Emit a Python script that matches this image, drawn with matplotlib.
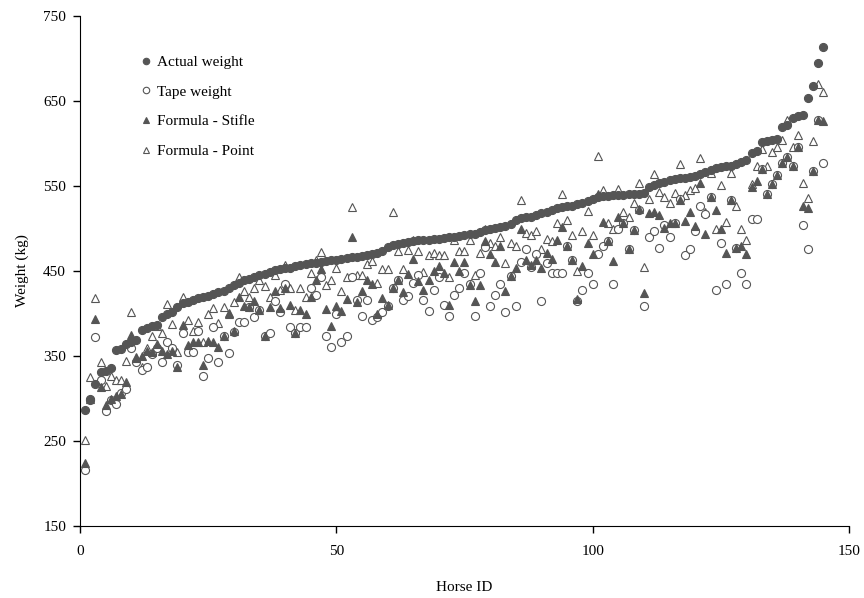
import numpy as np
import matplotlib.pyplot as plt

plt.rcParams['font.family'] = ['Liberation Serif', 'DejaVu Serif']

# Horse IDs 1..145 and the four weight series (kg)
horse_id = np.arange(1, 146)

actual = [286, 300, 317, 331, 332, 336, 357, 358, 364, 366,
          369, 381, 383, 385, 386, 396, 399, 402, 408, 412,
          414, 416, 418, 420, 421, 423, 425, 427, 430, 433,
          436, 439, 441, 443, 445, 447, 449, 451, 452, 453,
          454, 456, 457, 458, 459, 460, 461, 462, 463, 463,
          464, 465, 466, 467, 468, 469, 470, 471, 474, 478,
          481, 482, 483, 484, 485, 486, 486, 487, 488, 488,
          489, 490, 490, 491, 492, 493, 494, 496, 498, 500,
          501, 502, 503, 505, 510, 512, 513, 514, 516, 518,
          520, 522, 524, 525, 526, 527, 529, 530, 532, 535,
          537, 538, 538, 539, 540, 540, 541, 541, 541, 542,
          549, 551, 553, 555, 557, 558, 559, 560, 561, 562,
          564, 566, 569, 571, 572, 573, 574, 576, 578, 581,
          589, 591, 602, 603, 604, 605, 620, 622, 630, 632,
          633, 653, 668, 695, 713]

tape = [216, 298, 372, 322, 285, 298, 294, 306, 311, 359,
        343, 333, 337, 352, 360, 343, 366, 359, 340, 377,
        355, 355, 379, 327, 348, 384, 343, 373, 354, 378,
        390, 390, 408, 396, 404, 373, 377, 415, 402, 435,
        384, 377, 384, 384, 430, 422, 443, 373, 361, 400,
        366, 373, 443, 416, 397, 416, 392, 396, 402, 409,
        430, 440, 416, 421, 436, 445, 416, 403, 428, 443,
        410, 397, 422, 430, 448, 435, 397, 448, 478, 409,
        422, 435, 402, 444, 409, 461, 476, 455, 470, 415,
        460, 448, 448, 448, 480, 463, 415, 428, 448, 435,
        470, 480, 485, 435, 500, 507, 476, 498, 522, 409,
        490, 497, 477, 504, 490, 506, 535, 469, 476, 497,
        526, 517, 537, 428, 483, 435, 534, 477, 448, 435,
        511, 511, 570, 541, 552, 563, 577, 584, 574, 596,
        504, 476, 568, 628, 577]

stifle = [224, 300, 394, 313, 292, 300, 303, 305, 320, 375,
          348, 350, 356, 355, 364, 356, 352, 356, 337, 386,
          363, 367, 367, 339, 368, 367, 361, 373, 401, 379,
          419, 409, 408, 415, 404, 373, 408, 427, 407, 430,
          410, 377, 404, 400, 420, 439, 452, 405, 385, 409,
          403, 417, 490, 414, 427, 440, 435, 400, 418, 410,
          430, 439, 425, 447, 464, 438, 428, 439, 450, 456,
          448, 410, 461, 450, 461, 434, 415, 434, 485, 470,
          461, 479, 426, 444, 454, 500, 463, 457, 463, 454,
          471, 464, 487, 502, 479, 463, 417, 456, 483, 470,
          541, 508, 485, 462, 513, 507, 476, 498, 523, 424,
          518, 520, 516, 501, 506, 506, 534, 509, 519, 503,
          553, 494, 537, 522, 499, 471, 534, 477, 479, 470,
          549, 556, 570, 541, 552, 563, 577, 584, 574, 596,
          526, 524, 568, 628, 626]

point = [251, 325, 418, 343, 315, 326, 322, 322, 344, 402,
         349, 337, 360, 374, 385, 377, 411, 388, 355, 420,
         392, 379, 390, 367, 399, 406, 389, 408, 400, 413,
         443, 426, 420, 430, 440, 432, 420, 445, 428, 457,
         430, 404, 430, 420, 448, 463, 472, 434, 440, 454,
         427, 443, 525, 445, 445, 458, 462, 436, 452, 452,
         520, 473, 452, 475, 487, 473, 449, 469, 471, 469,
         469, 443, 486, 473, 473, 486, 445, 471, 500, 483,
         479, 490, 460, 483, 479, 534, 495, 492, 497, 476,
         488, 485, 507, 541, 510, 492, 450, 497, 521, 492,
         585, 545, 507, 499, 546, 520, 513, 530, 554, 455,
         535, 564, 543, 537, 530, 542, 576, 539, 545, 548,
         583, 519, 565, 500, 551, 508, 565, 527, 499, 487,
         552, 574, 594, 574, 590, 596, 604, 628, 596, 610,
         554, 536, 603, 670, 661]

grey = '#555555'

fig = plt.figure(figsize=(8.64, 5.98), dpi=100)
ax = fig.add_axes([0.0926, 0.1204, 0.89, 0.8528])

ax.plot(horse_id, point, '^', ms=5.8, mfc='white', mec=grey, mew=0.8,
        label='Formula - Point', zorder=3)
ax.plot(horse_id, tape, 'o', ms=5.8, mfc='white', mec=grey, mew=0.8,
        label='Tape weight', zorder=3)
ax.plot(horse_id, stifle, '^', ms=5.8, mfc=grey, mec=grey, mew=0.8,
        label='Formula - Stifle', zorder=4)
ax.plot(horse_id, actual, 'o', ms=5.8, mfc=grey, mec=grey, mew=0.8,
        label='Actual weight', zorder=5)

ax.set_xlim(0, 150)
ax.set_ylim(150, 750)
ax.set_xticks([0, 50, 100, 150])
ax.set_yticks(np.arange(150, 751, 100))
ax.tick_params(direction='out', length=5, width=1, labelsize=11)
ax.tick_params(axis='x', pad=9)
ax.tick_params(axis='y', pad=5)
ax.spines['top'].set_visible(False)
ax.spines['right'].set_visible(False)
ax.set_xlabel('Horse ID', fontsize=11, labelpad=16)
ax.set_ylabel('Weight (kg)', fontsize=11, labelpad=10)

# legend in the order of the original
h, l = ax.get_legend_handles_labels()
order = [3, 1, 2, 0]
ax.legend([h[i] for i in order], [l[i] for i in order], loc='upper left',
          bbox_to_anchor=(0.062, 0.95), frameon=False, fontsize=11,
          markerscale=0.8, handlelength=0.6, handletextpad=0.45,
          labelspacing=1.05)

plt.savefig('out.png', dpi=100)
